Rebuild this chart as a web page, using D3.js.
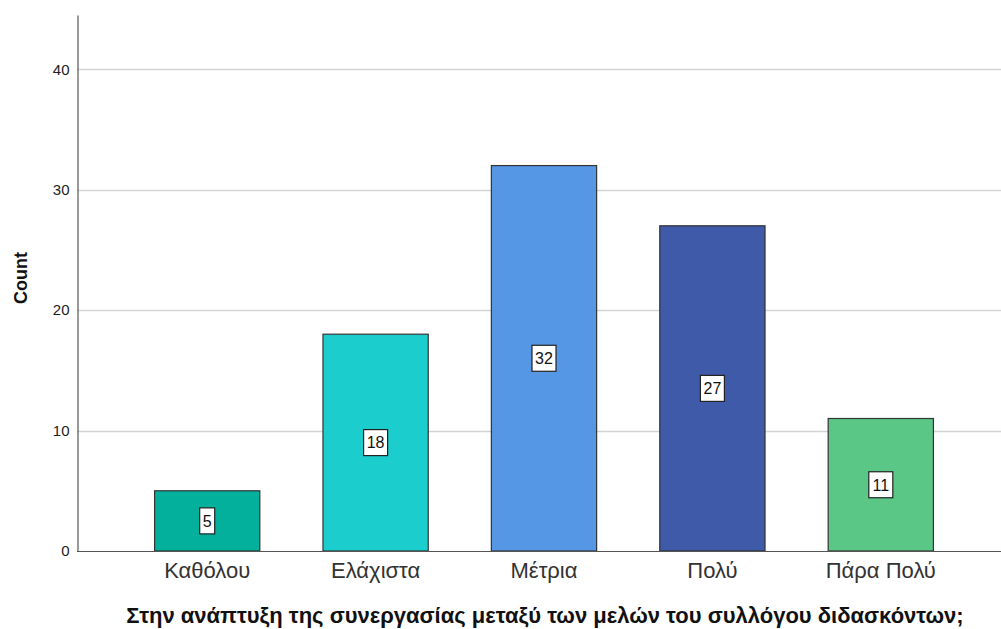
<!DOCTYPE html>
<html>
<head>
<meta charset="utf-8">
<script src="https://cdn.jsdelivr.net/npm/d3@7"></script>
<style>
  html, body { margin: 0; padding: 0; background: #fff; }
  svg { display: block; font-family: Arial, "Liberation Sans", sans-serif; }
</style>
</head>
<body>
<svg id="chart" width="1001" height="629"></svg>
<script>
// Response categories and counts
const categories = ["Καθόλου", "Ελάχιστα", "Μέτρια", "Πολύ", "Πάρα Πολύ"];
const counts = [5, 18, 32, 27, 11];
const barColors = ["#03b09c", "#1ccdcd", "#5596e5", "#3e5aa8", "#5bc787"];
const yTicks = [0, 10, 20, 30, 40];
const xTitle = "Στην ανάπτυξη της συνεργασίας μεταξύ των μελών του συλλόγου διδασκόντων;";
const yTitle = "Count";

const FONT = "Arial, 'Liberation Sans', sans-serif";
const svg = d3.select("#chart");
const axisX = 77, plotRight = 1001, baseY = 551, topY = 15;

const x = d3.scaleBand()
  .domain(categories)
  .range([123, 965])
  .paddingInner(0.375)
  .paddingOuter(0.1875);

const y = d3.scaleLinear().domain([0, 44.5]).range([baseY, topY]);

// Horizontal gridlines
svg.append("g")
  .selectAll("line")
  .data(yTicks.filter(d => d > 0))
  .join("line")
  .attr("x1", axisX).attr("x2", plotRight)
  .attr("y1", d => Math.round(y(d)) + 0.5).attr("y2", d => Math.round(y(d)) + 0.5)
  .attr("stroke", "#d4d4d4").attr("stroke-width", 1.5);

// Bars
svg.append("g")
  .selectAll("rect")
  .data(categories)
  .join("rect")
  .attr("x", d => x(d))
  .attr("y", (d, i) => y(counts[i]))
  .attr("width", x.bandwidth())
  .attr("height", (d, i) => baseY - y(counts[i]))
  .attr("fill", (d, i) => barColors[i])
  .attr("stroke", "#333")
  .attr("stroke-width", 1.2);

// Baseline and y axis line
svg.append("line")
  .attr("x1", axisX).attr("x2", plotRight)
  .attr("y1", baseY + 0.5).attr("y2", baseY + 0.5)
  .attr("stroke", "#555").attr("stroke-width", 1);

const yAxis = d3.axisLeft(y).tickValues(yTicks).tickSize(0).tickPadding(8);
const yg = svg.append("g").attr("transform", `translate(${axisX + 0.5},0)`).call(yAxis);
yg.select(".domain").attr("stroke", "#555").attr("stroke-width", 1.2);
yg.selectAll("text").attr("font-size", 15).attr("fill", "#222").attr("font-family", FONT);

// Category labels
const xAxis = d3.axisBottom(x).tickSize(0).tickPadding(11);
const xg = svg.append("g").attr("transform", `translate(0,${baseY})`).call(xAxis);
xg.select(".domain").remove();
xg.selectAll("text").attr("font-size", 22).attr("fill", "#333").attr("font-family", FONT);

// Value labels in boxes at bar middles
const labels = svg.append("g")
  .selectAll("g")
  .data(categories)
  .join("g")
  .attr("transform", (d, i) => `translate(${x(d) + x.bandwidth() / 2},${y(counts[i] / 2)})`);
labels.each(function (d, i) {
  const g = d3.select(this);
  const t = String(counts[i]);
  const w = t.length > 1 ? 24 : 15;
  g.append("rect")
    .attr("x", -w / 2).attr("y", -13).attr("width", w).attr("height", 26)
    .attr("fill", "#fff").attr("stroke", "#222").attr("stroke-width", 1.2);
  g.append("text")
    .attr("text-anchor", "middle").attr("dy", "0.36em")
    .attr("font-size", 16).attr("fill", "#111").attr("font-family", FONT)
    .text(t);
});

// Axis titles
svg.append("text")
  .attr("transform", `translate(27,278) rotate(-90)`)
  .attr("text-anchor", "middle")
  .attr("font-size", 18).attr("font-weight", "bold").attr("fill", "#111")
  .text(yTitle);

svg.append("text")
  .attr("x", 545).attr("y", 623)
  .attr("text-anchor", "middle")
  .attr("font-size", 22).attr("font-weight", "bold").attr("fill", "#111")
  .text(xTitle);
</script>
</body>
</html>
